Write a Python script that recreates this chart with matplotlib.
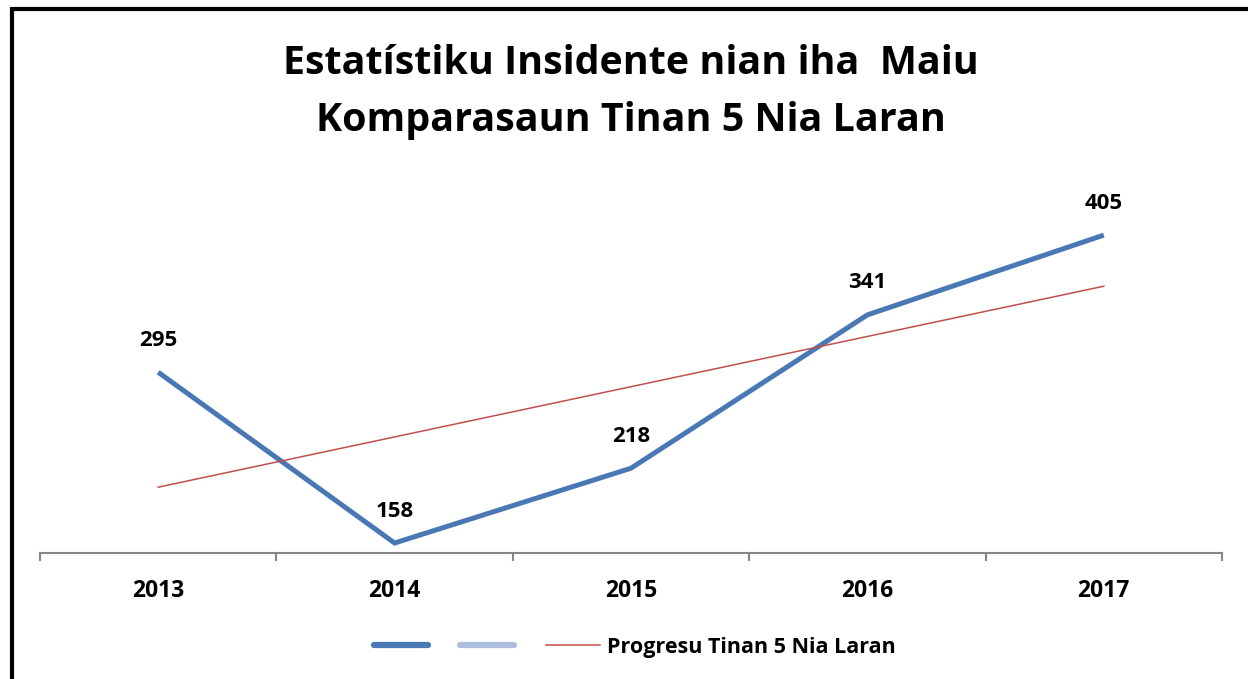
import matplotlib.pyplot as plt
from matplotlib.lines import Line2D
from matplotlib.patches import Rectangle
import numpy as np

plt.rcParams['font.family'] = ['Open Sans', 'DejaVu Sans']

years = ['2013', '2014', '2015', '2016', '2017']
incidents = [295, 158, 218, 341, 405]
title_lines = ['Estatístiku Insidente nian iha  Maiu', 'Komparasaun Tinan 5 Nia Laran']
trend_label = 'Progresu Tinan 5 Nia Laran'

blue = '#4a78b5'
light_blue = '#adbfdc'
red = '#c0504d'

W, H = 1248, 679
fig = plt.figure(figsize=(W / 100, H / 100), dpi=100)
ax = fig.add_axes([40 / W, 1 - 553 / H, (1222 - 40) / W, (553 - 179) / H])

x = np.arange(len(years))
ax.plot(x, incidents, color=blue, lw=3.6, solid_joinstyle='miter', solid_capstyle='butt')

# linear trend line
slope, intercept = np.polyfit(x, incidents, 1)
ax.plot(x, slope * x + intercept, color=red, lw=1.1)

for xi, v in zip(x, incidents):
    ax.annotate(str(v), (xi, v), xytext=(0, 23), textcoords='offset points',
                ha='center', va='center', fontsize=16, fontweight='bold')

ax.set_xlim(-0.5, len(years) - 0.5)
ax.set_ylim(150, 450)
ax.set_yticks([])
for s in ['top', 'right', 'left']:
    ax.spines[s].set_visible(False)
ax.spines['bottom'].set_color('#868686')
ax.spines['bottom'].set_linewidth(1.5)

ax.set_xticks(x)
ax.set_xticklabels(years, fontsize=16.5, fontweight='bold')
ax.tick_params(axis='x', length=0, pad=19)
for b in np.arange(-0.5, len(years), 1.0):
    ax.plot([b, b], [150, 150 - 6], color='#868686', lw=1.5, clip_on=False)

fig.text(631 / W, 1 - 63 / H, title_lines[0], ha='center', va='center',
         fontsize=28.4, fontweight='bold')
fig.text(631 / W, 1 - 121 / H, title_lines[1], ha='center', va='center',
         fontsize=28.4, fontweight='bold')

handles = [Line2D([], [], color=blue, lw=4.5, solid_capstyle='round'),
           Line2D([], [], color=light_blue, lw=4.5, solid_capstyle='round'),
           Line2D([], [], color=red, lw=1.1)]
fig.legend(handles, ['', '', trend_label], loc='center', bbox_to_anchor=(635 / W, 1 - 647 / H),
           ncol=3, frameon=False, prop={'weight': 'bold', 'size': 15.5},
           handlelength=2.5, columnspacing=1.15, handletextpad=0.35)

fig.patches.append(Rectangle((12 / W, -0.1), 2, 1 - 9.5 / H + 0.1, transform=fig.transFigure,
                             fill=False, edgecolor='black', lw=3))

fig.savefig('out.png', dpi=100)
